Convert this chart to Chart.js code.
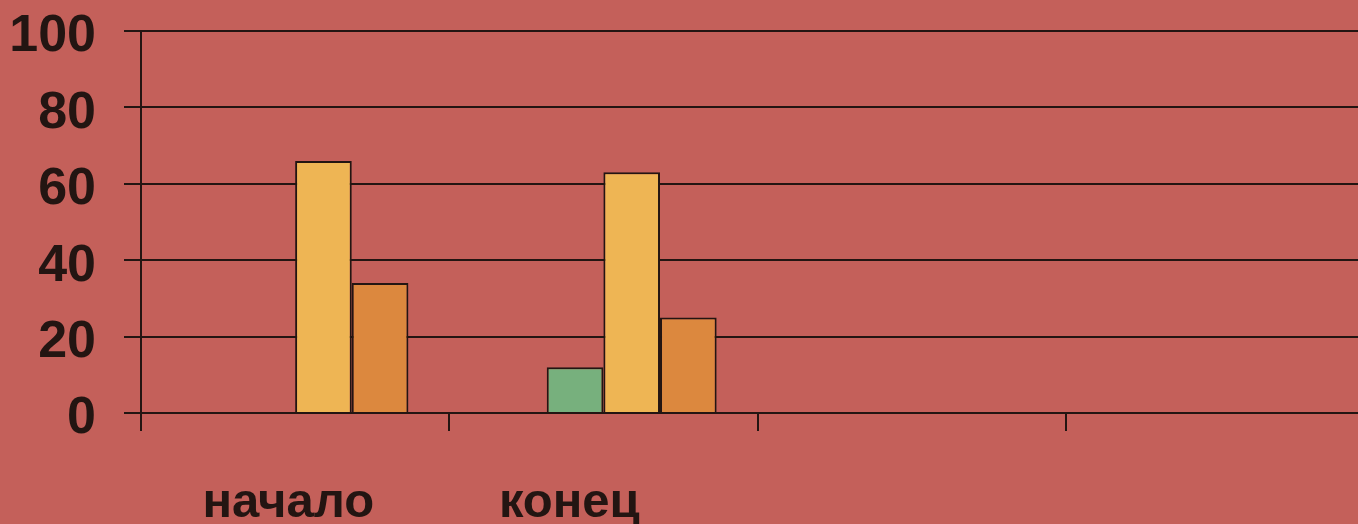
<!DOCTYPE html>
<html>
<head>
<meta charset="utf-8">
<script src="https://cdn.jsdelivr.net/npm/chart.js@4"></script>
<style>
  html, body { margin: 0; padding: 0; overflow: hidden; background: #c4605a; }
  canvas { display: block; }
</style>
</head>
<body>
<canvas id="chart" width="1376" height="524"></canvas>
<script>
// categories (last two are empty in the original); trailing spaces mimic the off-centre labels
const categories = ["начало ", "конец     ", "", ""];

// series values (first series is empty)
const emptyValues = [null, null, null, null];
const greenValues = [null, 12, null, null];
const yellowValues = [66, 63, null, null];
const orangeValues = [34, 25, null, null];

const yTicks = [0, 20, 40, 60, 80, 100];

const ink = "#231512";

new Chart(document.getElementById("chart"), {
  type: "bar",
  data: {
    labels: categories,
    datasets: [
      { label: "0", data: emptyValues, backgroundColor: "#4f81bd", borderColor: ink, borderWidth: 2 },
      { label: "1", data: greenValues, backgroundColor: "#77b07d", borderColor: ink, borderWidth: 2, borderSkipped: "bottom" },
      { label: "2", data: yellowValues, backgroundColor: "#eeb554", borderColor: ink, borderWidth: 2, borderSkipped: "bottom" },
      { label: "3", data: orangeValues, backgroundColor: "#dc883e", borderColor: ink, borderWidth: 2, borderSkipped: "bottom" }
    ]
  },
  options: {
    responsive: false,
    animation: false,
    layout: { padding: { top: 31, right: 2, left: 0, bottom: 0 } },
    plugins: { legend: { display: false }, tooltip: { enabled: false } },
    datasets: { bar: { barPercentage: 1, categoryPercentage: 0.735 } },
    scales: {
      x: {
        grid: { drawOnChartArea: false, drawTicks: true, tickLength: 18, color: ink, lineWidth: 2, offset: true },
        border: { display: true, color: ink, width: 2 },
        ticks: {
          color: ink,
          padding: 43,
          maxRotation: 0,
          font: { family: "'Liberation Sans', Arial, sans-serif", size: 49, weight: "bold" }
        },
        afterFit: s => { s.height = 111; s.paddingLeft = 0; s.paddingRight = 0; }
      },
      y: {
        min: 0,
        max: 100,
        afterBuildTicks: s => { s.ticks = yTicks.map(v => ({ value: v })); },
        grid: { color: ink, lineWidth: 2, tickLength: 17 },
        border: { display: true, color: ink, width: 2 },
        ticks: {
          color: ink,
          padding: 28,
          labelOffset: 6,
          font: { family: "'Liberation Sans', Arial, sans-serif", size: 52, weight: "bold" }
        },
        afterFit: s => { s.width = 141; s.paddingTop = 0; s.paddingBottom = 0; }
      }
    }
  }
});
</script>
</body>
</html>
